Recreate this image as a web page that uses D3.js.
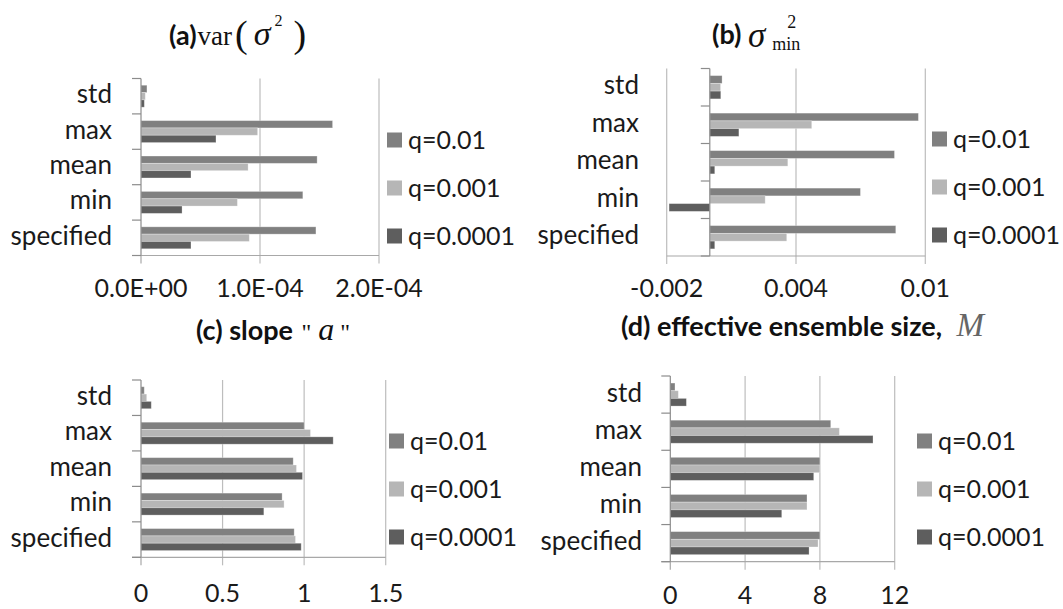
<!DOCTYPE html>
<html>
<head>
<meta charset="utf-8">
<script src="https://cdn.jsdelivr.net/npm/d3@7/dist/d3.min.js"></script>
<style>
  html, body { margin: 0; padding: 0; background: #fff; }
  svg { display: block; }
</style>
</head>
<body>
<svg id="chart" width="1063" height="609"></svg>
<script>
// Ensemble statistics: one value per category for each noise level q.
const categories = ["std", "max", "mean", "min", "specified"];
const seriesNames = ["q=0.01", "q=0.001", "q=0.0001"];
const seriesColors = ["#808080", "#b6b6b6", "#5e5e5e"];

// (a) var(sigma^2)
const varSigmaQ1 = [5.0e-6, 1.61e-4, 1.48e-4, 1.36e-4, 1.47e-4];
const varSigmaQ2 = [3.6e-6, 0.98e-4, 0.90e-4, 0.81e-4, 0.91e-4];
const varSigmaQ3 = [2.8e-6, 0.63e-4, 0.42e-4, 0.345e-4, 0.42e-4];
const ticksA = [0, 1e-4, 2e-4];
const tickLabelsA = ["0.0E+00", "1.0E-04", "2.0E-04"];

// (b) sigma^2 min
const sigmaMinQ1 = [0.00057, 0.00968, 0.00857, 0.00699, 0.00863];
const sigmaMinQ2 = [0.00050, 0.00473, 0.00362, 0.00257, 0.00357];
const sigmaMinQ3 = [0.00051, 0.00135, 0.00023, -0.00189, 0.00023];
const ticksB = [-0.002, 0.004, 0.01];
const tickLabelsB = ["-0.002", "0.004", "0.01"];

// (c) slope "a"
const slopeQ1 = [0.020, 1.000, 0.933, 0.865, 0.939];
const slopeQ2 = [0.035, 1.039, 0.953, 0.877, 0.947];
const slopeQ3 = [0.063, 1.178, 0.990, 0.753, 0.982];
const ticksC = [0, 0.5, 1, 1.5];
const tickLabelsC = ["0", "0.5", "1", "1.5"];

// (d) effective ensemble size M
const ensembleQ1 = [0.25, 8.58, 8.00, 7.31, 8.00];
const ensembleQ2 = [0.43, 9.04, 8.00, 7.31, 7.90];
const ensembleQ3 = [0.86, 10.84, 7.67, 5.96, 7.42];
const ticksD = [0, 4, 8, 12];
const tickLabelsD = ["0", "4", "8", "12"];

const SANS = "Lato, 'Open Sans', sans-serif";
const SERIF = "'Liberation Serif', 'DejaVu Serif', serif";

const panels = [
  { series: [varSigmaQ1, varSigmaQ2, varSigmaQ3], ticks: ticksA, labels: tickLabelsA,
    xr: [141, 379], yr: [78.5, 255.5], labelRight: 112, legendX: 387, legendY: 140, tickBase: 297 },
  { series: [sigmaMinQ1, sigmaMinQ2, sigmaMinQ3], ticks: ticksB, labels: tickLabelsB,
    xr: [666.7, 925.3], yr: [68.5, 256], labelRight: 639, legendX: 932, legendY: 139, tickBase: 297 },
  { series: [slopeQ1, slopeQ2, slopeQ3], ticks: ticksC, labels: tickLabelsC,
    xr: [141, 385.7], yr: [380, 557.3], labelRight: 112, legendX: 389, legendY: 441, tickBase: 602 },
  { series: [ensembleQ1, ensembleQ2, ensembleQ3], ticks: ticksD, labels: tickLabelsD,
    xr: [670.3, 894.7], yr: [376, 561.7], labelRight: 642, legendX: 917, legendY: 441, tickBase: 604 }
];

const svg = d3.select("#chart");

panels.forEach(p => {
  const g = svg.append("g");
  const x = d3.scaleLinear()
    .domain([p.ticks[0], p.ticks[p.ticks.length - 1]])
    .range(p.xr);
  const y = d3.scaleBand().domain(categories).range(p.yr);
  const inner = d3.scaleBand().domain(seriesNames)
    .range([y.bandwidth() * 0.19, y.bandwidth() * 0.81]);
  const [y0, y1] = p.yr;
  const x0 = x(0);

  // vertical gridlines, extended below the axis as tick marks
  g.selectAll("line.grid").data(p.ticks.filter(t => t !== 0)).join("line")
    .attr("x1", d => x(d)).attr("x2", d => x(d))
    .attr("y1", y0).attr("y2", y1 + 8)
    .attr("stroke", "#bdbdbd").attr("stroke-width", 1.2);

  // value axis along the bottom
  g.append("line")
    .attr("x1", Math.min(x0 - 9, p.xr[0])).attr("x2", p.xr[1])
    .attr("y1", y1).attr("y2", y1)
    .attr("stroke", "#a8a8a8").attr("stroke-width", 1.2);
  if (p.ticks.includes(0)) {
    g.append("line").attr("x1", x0).attr("x2", x0)
      .attr("y1", y1).attr("y2", y1 + 8)
      .attr("stroke", "#a8a8a8").attr("stroke-width", 1.2);
  }

  // bars
  p.series.forEach((vals, si) => {
    g.selectAll(null).data(vals).join("rect")
      .attr("x", d => x(Math.min(0, d)))
      .attr("width", d => Math.abs(x(d) - x0))
      .attr("y", (d, i) => y(categories[i]) + inner(seriesNames[si]))
      .attr("height", inner.bandwidth())
      .attr("fill", seriesColors[si])
      .attr("stroke", "rgba(255,255,255,0.35)")
      .attr("stroke-width", 0.8);
  });

  // category axis at zero, with outside ticks at band boundaries
  g.append("line").attr("x1", x0).attr("x2", x0)
    .attr("y1", y0).attr("y2", y1)
    .attr("stroke", "#8c8c8c").attr("stroke-width", 1.2);
  const bounds = categories.map(c => y(c)).concat([y1]);
  g.selectAll("line.ctick").data(bounds).join("line")
    .attr("x1", x0 - 9).attr("x2", x0)
    .attr("y1", d => d).attr("y2", d => d)
    .attr("stroke", "#8c8c8c").attr("stroke-width", 1.2);

  // category labels
  g.selectAll("text.cat").data(categories).join("text")
    .attr("x", p.labelRight)
    .attr("y", d => y(d) + y.bandwidth() / 2 + 7)
    .attr("text-anchor", "end")
    .attr("font-family", SANS).attr("font-size", 26).attr("fill", "#1a1a1a")
    .text(d => d);

  // value tick labels
  g.selectAll("text.tick").data(p.ticks).join("text")
    .attr("x", d => x(d)).attr("y", p.tickBase)
    .attr("text-anchor", "middle")
    .attr("font-family", SANS).attr("font-size", 25).attr("fill", "#1a1a1a")
    .text((d, i) => p.labels[i]);

  // legend
  const leg = g.selectAll("g.leg").data(seriesNames).join("g")
    .attr("transform", (d, i) => `translate(${p.legendX},${p.legendY + i * 48})`);
  leg.append("rect").attr("x", 0).attr("y", -7.5).attr("width", 15).attr("height", 15)
    .attr("fill", (d, i) => seriesColors[i]);
  leg.append("text").attr("x", 21).attr("y", 9)
    .attr("font-family", SANS).attr("font-size", 25).attr("fill", "#1a1a1a")
    .text(d => d);
});

// panel titles
const bold = sel => sel.attr("font-family", SANS).attr("font-weight", "bold").attr("font-size", 27);
const serif = (sel, size) => sel.attr("font-family", SERIF).attr("font-size", size);

const tA = svg.append("text").attr("x", 169).attr("y", 45).attr("fill", "#111");
bold(tA.append("tspan")).text("(a)");
serif(tA.append("tspan"), 27).attr("dx", 1).text("var");
serif(tA.append("tspan"), 38).attr("dy", 2).attr("dx", 3).text("(");
serif(tA.append("tspan"), 34).attr("font-style", "italic").attr("dy", -2).attr("dx", 6).text("σ");
serif(tA.append("tspan"), 16).attr("dy", -19).attr("dx", 4).text("2");
serif(tA.append("tspan"), 38).attr("dy", 21).attr("dx", 11).text(")");

const tB = svg.append("text").attr("x", 712).attr("y", 44).attr("fill", "#111");
bold(tB.append("tspan")).text("(b) ");
serif(tB.append("tspan"), 35).attr("font-style", "italic").attr("dy", 3).text("σ");
serif(tB.append("tspan"), 18).attr("dy", 3).attr("dx", 7).text("min");
serif(tB.append("tspan"), 18).attr("dy", -22).attr("dx", -13).text("2");

const tC = svg.append("text").attr("x", 196).attr("y", 340).attr("fill", "#111");
bold(tC.append("tspan")).text("(c) slope ");
serif(tC.append("tspan"), 24).attr("dx", 2).text("\"");
serif(tC.append("tspan"), 32).attr("font-style", "italic").attr("dx", 7).text("a");
serif(tC.append("tspan"), 24).attr("dx", 6).text("\"");

const tD = svg.append("text").attr("x", 621).attr("y", 336).attr("fill", "#111");
bold(tD.append("tspan")).text("(d) effective ensemble size, ");
serif(tD.append("tspan"), 33).attr("font-style", "italic").attr("fill", "#666").attr("dx", 8).text("M");
</script>
</body>
</html>
